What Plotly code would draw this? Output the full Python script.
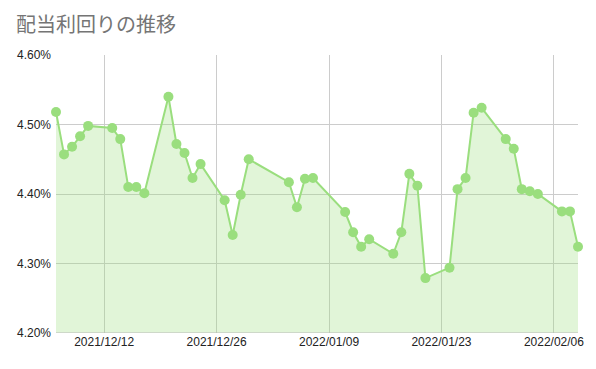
import plotly.graph_objects as go

dates = [
    "2021-12-06", "2021-12-07", "2021-12-08", "2021-12-09", "2021-12-10",
    "2021-12-13", "2021-12-14", "2021-12-15", "2021-12-16", "2021-12-17",
    "2021-12-20", "2021-12-21", "2021-12-22", "2021-12-23", "2021-12-24",
    "2021-12-27", "2021-12-28", "2021-12-29", "2021-12-30",
    "2022-01-04", "2022-01-05", "2022-01-06", "2022-01-07",
    "2022-01-11", "2022-01-12", "2022-01-13", "2022-01-14",
    "2022-01-17", "2022-01-18", "2022-01-19", "2022-01-20", "2022-01-21",
    "2022-01-24", "2022-01-25", "2022-01-26", "2022-01-27", "2022-01-28",
    "2022-01-31", "2022-02-01", "2022-02-02", "2022-02-03", "2022-02-04",
    "2022-02-07", "2022-02-08", "2022-02-09",
]
yields = [
    4.518, 4.457, 4.468, 4.483, 4.498,
    4.495, 4.479, 4.410, 4.410, 4.401,
    4.540, 4.472, 4.459, 4.423, 4.443,
    4.391, 4.341, 4.399, 4.450,
    4.417, 4.381, 4.422, 4.423,
    4.374, 4.345, 4.324, 4.335,
    4.314, 4.345, 4.429, 4.412, 4.279,
    4.294, 4.407, 4.423, 4.517, 4.524,
    4.479, 4.465, 4.407, 4.404, 4.400,
    4.375, 4.375, 4.324,
]
tick_dates = ["2021-12-12", "2021-12-26", "2022-01-09", "2022-01-23", "2022-02-06"]
tick_labels = ["2021/12/12", "2021/12/26", "2022/01/09", "2022/01/23", "2022/02/06"]
y_ticks = [4.20, 4.30, 4.40, 4.50, 4.60]
y_tick_labels = ["4.20%", "4.30%", "4.40%", "4.50%", "4.60%"]

line_color = "rgb(154,222,126)"

fig = go.Figure()
fig.add_trace(go.Scatter(
    x=dates, y=yields,
    mode="lines+markers",
    line=dict(color=line_color, width=2),
    marker=dict(color=line_color, size=10),
    fill="tozeroy",
    fillcolor="rgba(154,222,126,0.3)",
    hoverinfo="x+y",
    cliponaxis=False,
))

fig.update_layout(
    width=596, height=369,
    margin=dict(l=56, r=18, t=55, b=36, autoexpand=False),
    paper_bgcolor="white", plot_bgcolor="white",
    showlegend=False,
    font=dict(family="Arial, Liberation Sans, sans-serif", size=12, color="#222222"),
    title=dict(
        text="配当利回りの推移",
        x=16 / 596, xanchor="left", xref="container",
        y=1 - 25 / 369, yanchor="middle", yref="container",
        font=dict(family="Noto Sans CJK JP, sans-serif", size=20, color="#757575"),
    ),
    xaxis=dict(
        type="date",
        range=["2021-12-06", "2022-02-09"],
        tickvals=tick_dates, ticktext=tick_labels,
        showgrid=True, gridcolor="#cccccc", gridwidth=1,
        zeroline=False, showline=False, ticks="",
        automargin=False,
        tickfont=dict(size=12, color="#222222"),
    ),
    yaxis=dict(
        range=[4.20, 4.60],
        tickvals=y_ticks, ticktext=y_tick_labels,
        showgrid=True, gridcolor="#cccccc", gridwidth=1,
        zeroline=False, showline=False, ticks="",
        automargin=False,
        ticklabelstandoff=4,
        tickfont=dict(size=12, color="#222222"),
    ),
)
fig.add_shape(type="line", xref="paper", yref="y", x0=0, x1=1, y0=4.20, y1=4.20,
              line=dict(color="#bbbbbb", width=1))

fig.write_html(
    "out.html",
    config={"displayModeBar": False},
    post_script="document.body.style.margin='0';document.body.style.padding='0';",
)
